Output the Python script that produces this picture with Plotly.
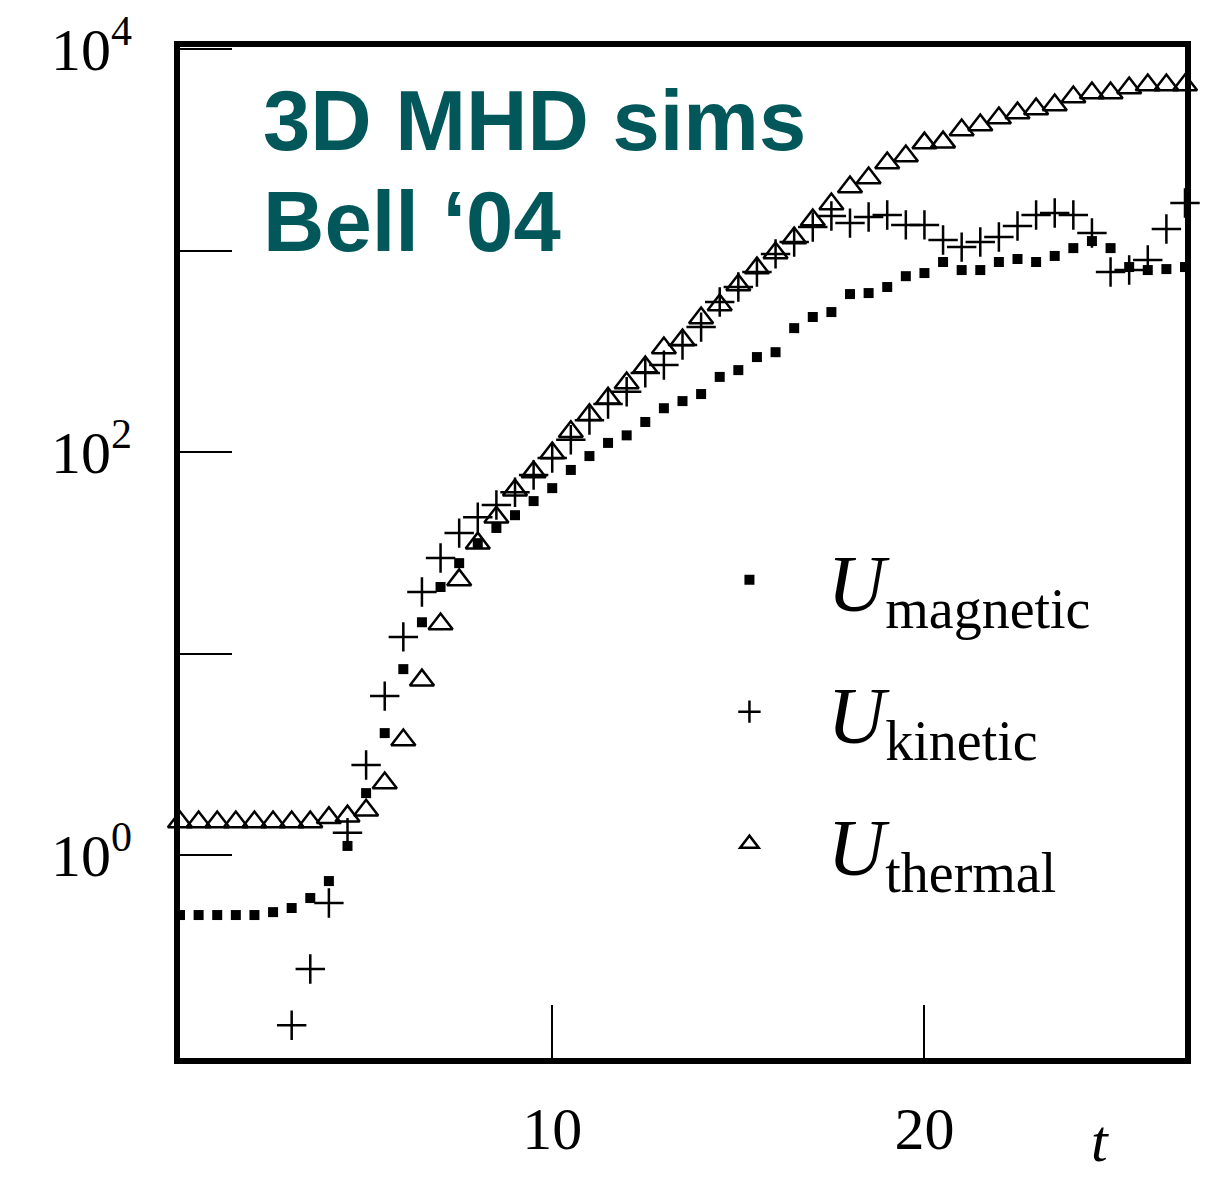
import plotly.graph_objects as go

# time grid (simulation output every 0.5)
t_all = [0, 0.5, 1, 1.5, 2, 2.5, 3, 3.5, 4, 4.5, 5, 5.5, 6, 6.5, 7, 7.5, 8, 8.5, 9, 9.5,
         10, 10.5, 11, 11.5, 12, 12.5, 13, 13.5, 14, 14.5, 15, 15.5, 16, 16.5, 17, 17.5,
         18, 18.5, 19, 19.5, 20, 20.5, 21, 21.5, 22, 22.5, 23, 23.5, 24, 24.5, 25, 25.5,
         26, 26.5, 27]
t_kin = t_all[6:]

U_magnetic = [0.504, 0.504, 0.504, 0.504, 0.504, 0.521, 0.546, 0.612, 0.743, 1.11,
              2.03, 4.03, 8.37, 14.3, 21.4, 28.1, 35.3, 42.0, 48.6, 57.1,
              66.2, 81.5, 95.5, 111, 121, 141, 165, 179, 194, 236,
              255, 296, 313, 412, 468, 495, 608, 615, 659, 746,
              773, 877, 800, 800, 877, 908, 877, 940, 1028, 1114,
              1028, 828, 800, 809, 828]

U_kinetic = [0.143, 0.272, 0.578, 1.29, 2.80, 6.15, 12.1, 20.2, 29.8, 39.6,
             47.5, 54.6, 63.2, 76.9, 93.3, 115, 144, 173, 199, 247,
             270, 340, 417, 555, 659, 782, 962, 1102, 1309, 1483,
             1368, 1466, 1500, 1340, 1340, 1127, 1040, 1102, 1167, 1324,
             1500, 1535, 1500, 1222, 782, 800, 897, 1279, 1722]

U_thermal = [1.46, 1.46, 1.46, 1.46, 1.46, 1.46, 1.46, 1.46, 1.53, 1.56,
             1.67, 2.28, 3.72, 7.38, 14.0, 23.2, 35.3, 47.5, 64.7, 79.6,
             98.9, 126, 153, 185, 220, 264, 328, 360, 462, 537,
             675, 818, 973, 1153, 1416, 1702, 2065, 2291, 2716, 2944,
             3412, 3451, 3963, 4198, 4550, 4808, 5035, 5272, 5781, 6053,
             6053, 6397, 6622, 6622, 6622]

y_tickvals = [1, 10, 100, 1000, 10000]
y_ticktext = ["10<sup>0</sup>", "", "10<sup>2</sup>", "", "10<sup>4</sup>"]
x_tickvals = [10, 20]
x_ticktext = ["10", "20"]

serif = "Liberation Serif, Times New Roman, serif"
sans = "Liberation Sans, Arial, sans-serif"
teal = "#02575a"

fig = go.Figure()
fig.add_trace(go.Scatter(
    x=t_all, y=U_magnetic, mode="markers", name="<i>U</i><sub>magnetic</sub>",
    legendgroup="m",
    marker=dict(symbol="square", size=10, color="black"), cliponaxis=False))
fig.add_trace(go.Scatter(
    x=t_kin, y=U_kinetic, mode="markers", name="<i>U</i><sub>kinetic</sub>",
    legendgroup="k",
    marker=dict(symbol="cross-thin-open", size=21, color="black",
                line=dict(color="black", width=2.5)), cliponaxis=False))
fig.add_trace(go.Scatter(
    x=t_all, y=U_thermal, mode="markers", name="<i>U</i><sub>thermal</sub>",
    legendgroup="t",
    marker=dict(symbol="triangle-up-open", size=21, color="black",
                line=dict(color="black", width=2.5)), cliponaxis=False))

fig.update_xaxes(
    range=[0, 27], tickvals=x_tickvals, ticktext=x_ticktext,
    ticks="inside", ticklen=53, tickwidth=2, tickcolor="black",
    showline=True, linewidth=6, linecolor="black", mirror=True,
    showgrid=False, zeroline=False, automargin=False,
    tickfont=dict(family=serif, size=60, color="black"),
    ticklabelstandoff=13, ticklabeloverflow="allow")
fig.update_yaxes(
    type="log", range=[-1.007, 4.01], tickvals=y_tickvals, ticktext=y_ticktext,
    ticks="inside", ticklen=52, tickwidth=2, tickcolor="black",
    showline=True, linewidth=6, linecolor="black", mirror=True,
    showgrid=False, zeroline=False, automargin=False,
    tickfont=dict(family=serif, size=60, color="black"),
    ticklabelstandoff=30, ticklabeloverflow="allow")

fig.add_annotation(
    text="3D MHD sims", xref="paper", yref="paper",
    x=0.081, y=0.976, xanchor="left", yanchor="top", align="left", showarrow=False,
    font=dict(family=sans, size=85, color=teal, weight="bold"))
fig.add_annotation(
    text="Bell \u201804", xref="paper", yref="paper",
    x=0.081, y=0.876, xanchor="left", yanchor="top", align="left", showarrow=False,
    font=dict(family=sans, size=85, color=teal, weight="bold"))
fig.add_annotation(
    text="<i>t</i>", xref="paper", yref="paper", x=0.915, y=-0.117,
    xanchor="center", yanchor="bottom", showarrow=False,
    font=dict(family=serif, size=60, color="black"))

# page body has an 8px margin, so the figure is 8px smaller than the window
fig.update_layout(
    width=1205, height=1171,
    margin=dict(l=172, r=28, t=39, b=121, autoexpand=False),
    paper_bgcolor="white", plot_bgcolor="white",
    showlegend=True,
    legend=dict(x=0.489, y=0.531, xanchor="left", yanchor="top",
                bgcolor="rgba(0,0,0,0)", itemwidth=146,
                traceorder="grouped", tracegroupgap=25,
                font=dict(family=serif, size=80, color="black")),
)

fig.write_html("out.html")
